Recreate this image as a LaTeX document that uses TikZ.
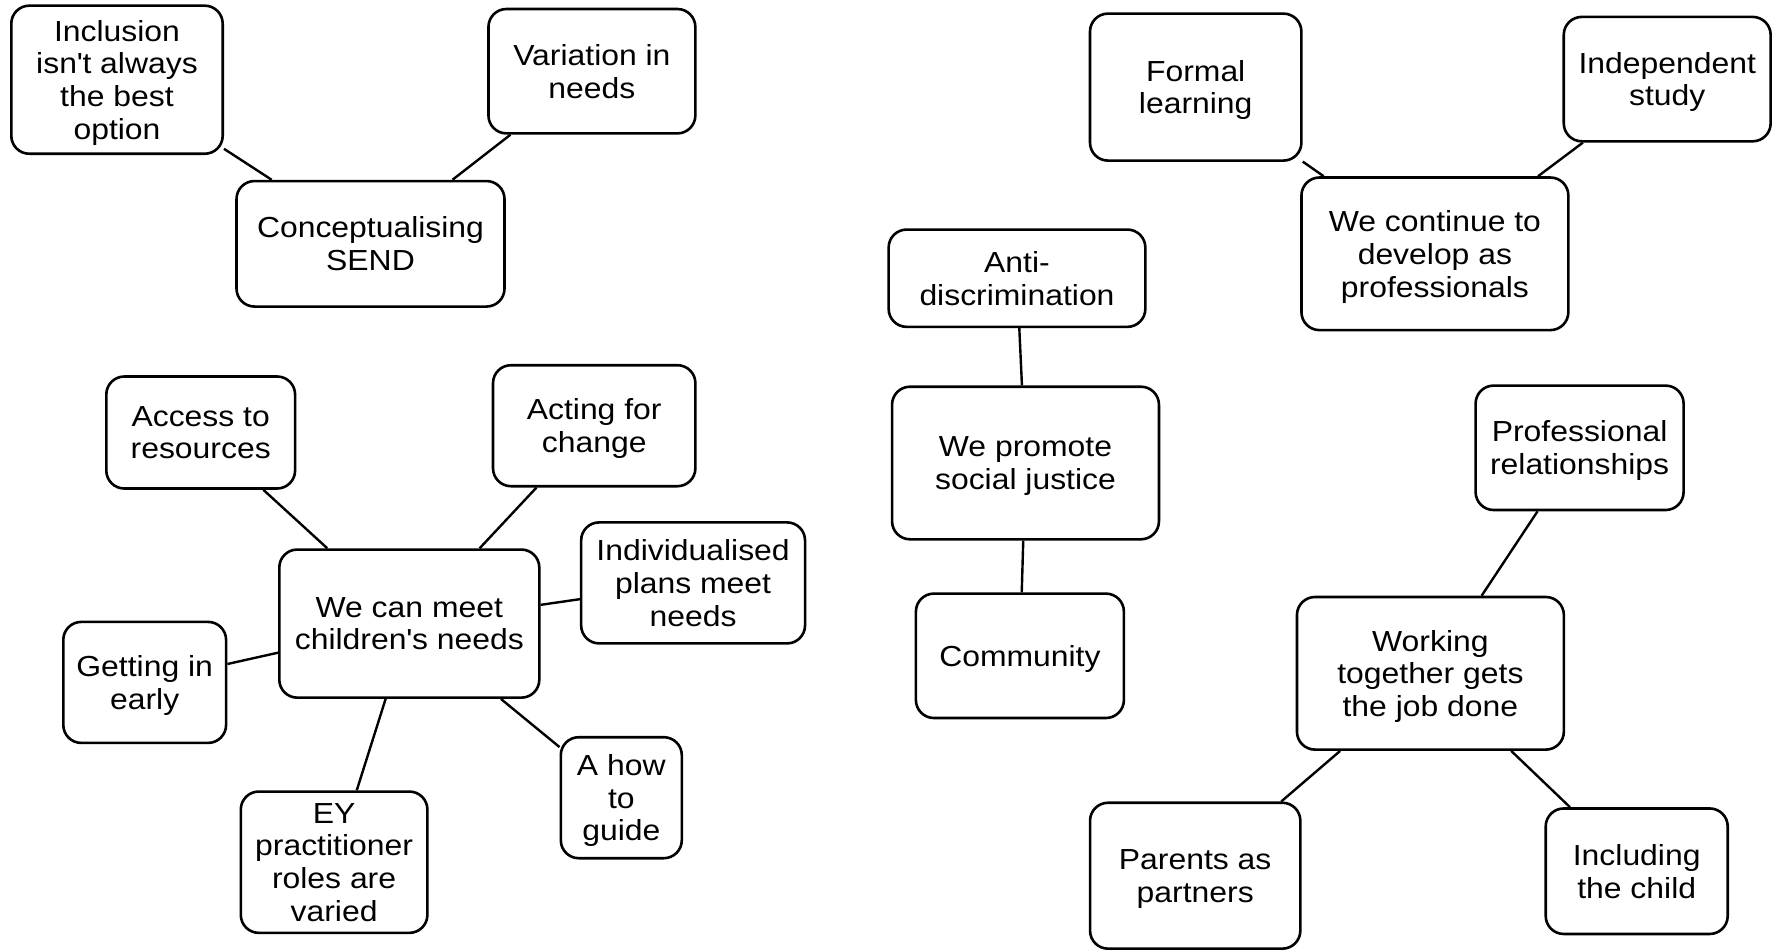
\documentclass[tikz,border=0pt]{standalone}
\usepackage{fontspec}
\setmainfont{Liberation Sans}[FakeStretch=1.1]
\begin{document}
\begin{tikzpicture}[x=1pt,y=-1pt,
  box/.style={draw=black, line width=2.6pt, rounded corners=18pt, fill=white,
    inner sep=0pt, align=center, text depth=0pt,
    font=\fontsize{29}{32.7}\selectfont},
  link/.style={draw=black, line width=2.4pt}]
\useasboundingbox (0,0) rectangle (1773,951);

% Conceptualising SEND cluster
\node[box, minimum width=211.4pt, minimum height=148.1pt] (incl) at (117,79.7) {Inclusion\\isn\textquotesingle t always\\the best\\option};
\node[box, minimum width=206.9pt, minimum height=124.4pt] (vari) at (591.9,71.2) {Variation in\\needs};
\node[box, minimum width=268pt, minimum height=125.5pt] (send) at (370.5,243.8) {Conceptualising\\SEND};

% Meeting children's needs cluster
\node[box, minimum width=188.8pt, minimum height=112pt] (access) at (200.7,432.5) {Access to\\resources};
\node[box, minimum width=202.4pt, minimum height=121pt] (acting) at (594.2,425.7) {Acting for\\change};
\node[box, minimum width=223.9pt, minimum height=121pt] (plans) at (693.1,582.9) {Individualised\\plans meet\\needs};
\node[box, minimum width=260pt, minimum height=148.1pt] (meet) at (409.3,623.6) {We can meet\\children\textquotesingle s needs};
\node[box, minimum width=162.8pt, minimum height=121pt] (early) at (144.7,682.4) {Getting in\\early};
\node[box, minimum width=121pt, minimum height=121pt] (guide) at (621.3,797.7) {A how\\to\\guide};
\node[box, minimum width=186.6pt, minimum height=141.3pt] (roles) at (334.1,862.2) {EY\\practitioner\\roles are\\varied};

% Social justice cluster
\node[box, minimum width=256.7pt, minimum height=97.3pt] (anti) at (1017,278.2) {Anti-\\discrimination};
\node[box, minimum width=266.9pt, minimum height=152.6pt] (justice) at (1025.5,463) {We promote\\social justice};
\node[box, minimum width=208pt, minimum height=124.4pt] (comm) at (1019.9,655.8) {Community};

% Professional development cluster
\node[box, minimum width=211.4pt, minimum height=147pt] (formal) at (1195.7,87.1) {Formal\\learning};
\node[box, minimum width=206.9pt, minimum height=124.4pt] (indep) at (1667.2,79.1) {Independent\\study};
\node[box, minimum width=266.9pt, minimum height=152.6pt] (develop) at (1434.9,253.8) {We continue to\\develop as\\professionals};

% Working together cluster
\node[box, minimum width=208pt, minimum height=124.4pt] (prof) at (1579.6,447.8) {Professional\\relationships};
\node[box, minimum width=266.9pt, minimum height=152.6pt] (work) at (1430.4,673.3) {Working\\together gets\\the job done};
\node[box, minimum width=210.3pt, minimum height=145.9pt] (parents) at (1195.2,875.7) {Parents as\\partners};
\node[box, minimum width=182pt, minimum height=125.5pt] (child) at (1636.7,871.2) {Including\\the child};

% Connectors
\draw[link] (incl) -- (send);
\draw[link] (vari) -- (send);
\draw[link] (access) -- (meet);
\draw[link] (acting) -- (meet);
\draw[link] (plans) -- (meet);
\draw[link] (early) -- (meet);
\draw[link] (guide) -- (meet);
\draw[link] (roles) -- (meet);
\draw[link] (anti) -- (justice);
\draw[link] (justice) -- (comm);
\draw[link] (formal) -- (develop);
\draw[link] (indep) -- (develop);
\draw[link] (prof) -- (work);
\draw[link] (work) -- (parents);
\draw[link] (work) -- (child);
\end{tikzpicture}
\end{document}
